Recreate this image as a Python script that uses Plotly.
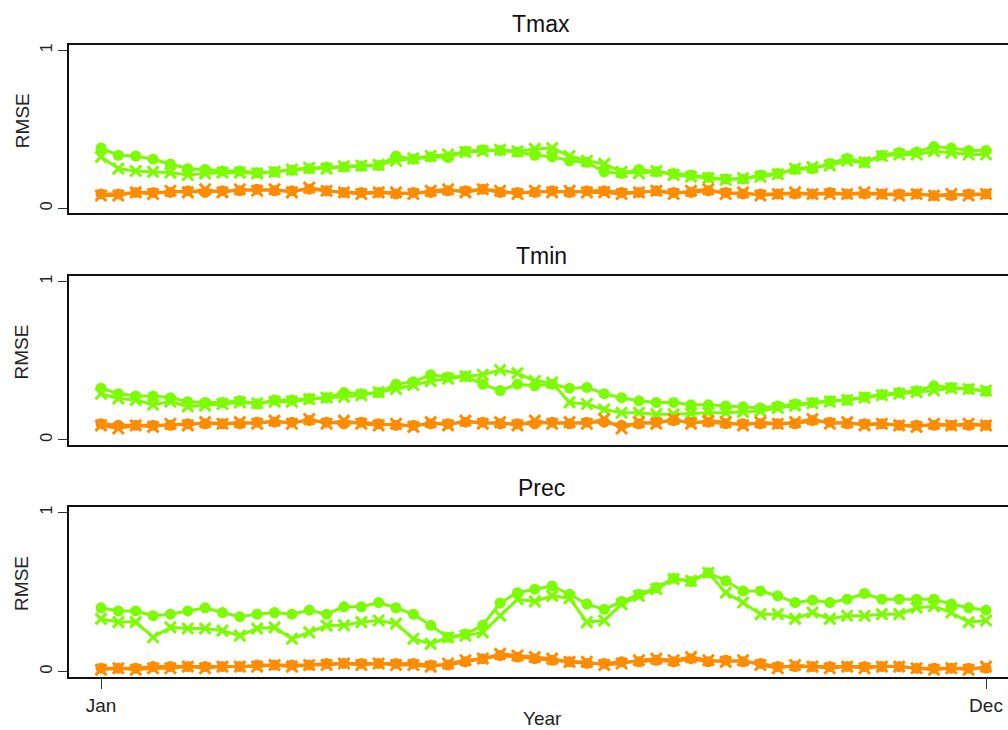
import plotly.graph_objects as go

# Weekly index across the year (52 weeks)
weeks = list(range(1, 53))
tick_vals = [1, 52]
tick_text = ["Jan", "Dec"]

panels = ["Tmax", "Tmin", "Prec"]

# Tmax RMSE
tmax_green_dot = [0.38, 0.335, 0.33, 0.31, 0.28, 0.25, 0.245, 0.235, 0.235, 0.225, 0.23, 0.24, 0.25,
                  0.26, 0.26, 0.265, 0.27, 0.33, 0.31, 0.325, 0.32, 0.36, 0.37, 0.365, 0.355, 0.335,
                  0.325, 0.30, 0.29, 0.23, 0.22, 0.245, 0.23, 0.22, 0.21, 0.195, 0.185, 0.185, 0.21,
                  0.22, 0.245, 0.25, 0.283, 0.315, 0.29, 0.335, 0.352, 0.355, 0.39, 0.38, 0.365, 0.365]
tmax_green_x = [0.325, 0.25, 0.235, 0.23, 0.225, 0.21, 0.22, 0.225, 0.225, 0.22, 0.23, 0.245, 0.255,
                0.25, 0.265, 0.27, 0.275, 0.30, 0.315, 0.33, 0.34, 0.355, 0.36, 0.37, 0.36, 0.375,
                0.38, 0.33, 0.30, 0.28, 0.23, 0.22, 0.235, 0.21, 0.20, 0.19, 0.18, 0.19, 0.20,
                0.215, 0.25, 0.26, 0.27, 0.30, 0.29, 0.33, 0.34, 0.34, 0.36, 0.35, 0.34, 0.34]
tmax_orange_dot = [0.09, 0.09, 0.10, 0.10, 0.10, 0.11, 0.10, 0.11, 0.11, 0.12, 0.11, 0.11, 0.12,
                   0.11, 0.10, 0.10, 0.10, 0.09, 0.10, 0.10, 0.11, 0.11, 0.12, 0.10, 0.10, 0.10,
                   0.11, 0.10, 0.11, 0.11, 0.10, 0.10, 0.11, 0.10, 0.10, 0.11, 0.10, 0.09, 0.09,
                   0.09, 0.09, 0.09, 0.10, 0.09, 0.09, 0.09, 0.09, 0.09, 0.08, 0.08, 0.09, 0.09]
tmax_orange_x = [0.08, 0.08, 0.10, 0.09, 0.11, 0.10, 0.12, 0.10, 0.12, 0.11, 0.12, 0.10, 0.13,
                 0.11, 0.10, 0.09, 0.10, 0.10, 0.09, 0.11, 0.12, 0.10, 0.12, 0.11, 0.09, 0.11,
                 0.10, 0.11, 0.10, 0.10, 0.09, 0.10, 0.11, 0.09, 0.11, 0.12, 0.09, 0.10, 0.08,
                 0.09, 0.10, 0.09, 0.09, 0.09, 0.10, 0.09, 0.08, 0.09, 0.08, 0.09, 0.08, 0.09]

# Tmin RMSE
tmin_green_dot = [0.325, 0.29, 0.275, 0.275, 0.265, 0.24, 0.235, 0.235, 0.245, 0.225, 0.25, 0.25, 0.26,
                  0.265, 0.297, 0.29, 0.297, 0.35, 0.365, 0.41, 0.395, 0.40, 0.35, 0.31, 0.35, 0.34,
                  0.35, 0.325, 0.33, 0.29, 0.265, 0.245, 0.235, 0.235, 0.22, 0.22, 0.213, 0.207, 0.20,
                  0.213, 0.225, 0.235, 0.245, 0.25, 0.27, 0.285, 0.297, 0.308, 0.34, 0.33, 0.32, 0.305]
tmin_green_x = [0.29, 0.26, 0.25, 0.22, 0.24, 0.21, 0.215, 0.225, 0.235, 0.23, 0.24, 0.24, 0.255,
                0.265, 0.27, 0.28, 0.30, 0.32, 0.345, 0.37, 0.385, 0.40, 0.41, 0.44, 0.42, 0.37,
                0.36, 0.235, 0.225, 0.19, 0.17, 0.17, 0.16, 0.16, 0.165, 0.17, 0.17, 0.175, 0.18,
                0.20, 0.215, 0.23, 0.24, 0.25, 0.265, 0.28, 0.29, 0.30, 0.31, 0.325, 0.32, 0.31]
tmin_orange_dot = [0.10, 0.09, 0.09, 0.09, 0.09, 0.10, 0.10, 0.10, 0.10, 0.11, 0.11, 0.11, 0.12,
                   0.11, 0.10, 0.11, 0.10, 0.09, 0.09, 0.10, 0.10, 0.11, 0.11, 0.10, 0.10, 0.10,
                   0.11, 0.10, 0.11, 0.11, 0.09, 0.10, 0.11, 0.12, 0.11, 0.11, 0.10, 0.10, 0.10,
                   0.10, 0.10, 0.12, 0.11, 0.10, 0.10, 0.10, 0.09, 0.09, 0.09, 0.09, 0.09, 0.09]
tmin_orange_x = [0.09, 0.07, 0.09, 0.08, 0.10, 0.09, 0.11, 0.10, 0.11, 0.10, 0.12, 0.10, 0.13,
                 0.10, 0.12, 0.10, 0.09, 0.10, 0.08, 0.11, 0.09, 0.12, 0.10, 0.11, 0.09, 0.12,
                 0.10, 0.11, 0.10, 0.13, 0.07, 0.11, 0.10, 0.13, 0.10, 0.12, 0.11, 0.09, 0.11,
                 0.10, 0.11, 0.13, 0.10, 0.11, 0.09, 0.10, 0.09, 0.08, 0.10, 0.09, 0.10, 0.09]

# Precipitation RMSE
prec_green_dot = [0.40, 0.38, 0.38, 0.35, 0.36, 0.38, 0.40, 0.37, 0.344, 0.36, 0.37, 0.36, 0.385,
                  0.36, 0.406, 0.406, 0.433, 0.40, 0.36, 0.29, 0.214, 0.235, 0.29, 0.43, 0.495, 0.517,
                  0.537, 0.485, 0.423, 0.39, 0.44, 0.485, 0.527, 0.585, 0.565, 0.62, 0.57, 0.506, 0.506,
                  0.475, 0.433, 0.448, 0.433, 0.454, 0.49, 0.454, 0.454, 0.454, 0.454, 0.423, 0.40, 0.385]
prec_green_x = [0.33, 0.31, 0.31, 0.215, 0.277, 0.27, 0.27, 0.256, 0.225, 0.27, 0.277, 0.205, 0.245,
                0.288, 0.29, 0.31, 0.32, 0.30, 0.205, 0.173, 0.214, 0.225, 0.245, 0.35, 0.454, 0.44,
                0.475, 0.46, 0.31, 0.32, 0.423, 0.475, 0.517, 0.58, 0.57, 0.62, 0.495, 0.433, 0.36,
                0.36, 0.33, 0.37, 0.33, 0.35, 0.35, 0.36, 0.36, 0.40, 0.41, 0.37, 0.31, 0.32]
prec_orange_dot = [0.02, 0.02, 0.02, 0.03, 0.03, 0.03, 0.03, 0.03, 0.03, 0.04, 0.04, 0.04, 0.04,
                   0.05, 0.05, 0.05, 0.05, 0.05, 0.05, 0.04, 0.04, 0.06, 0.08, 0.10, 0.09, 0.08,
                   0.07, 0.06, 0.05, 0.05, 0.06, 0.06, 0.07, 0.06, 0.08, 0.06, 0.07, 0.06, 0.05,
                   0.03, 0.03, 0.03, 0.03, 0.03, 0.03, 0.03, 0.03, 0.02, 0.02, 0.02, 0.02, 0.02]
prec_orange_x = [0.01, 0.02, 0.01, 0.02, 0.02, 0.03, 0.02, 0.03, 0.03, 0.03, 0.04, 0.03, 0.04,
                 0.04, 0.05, 0.04, 0.05, 0.04, 0.04, 0.03, 0.05, 0.07, 0.08, 0.11, 0.10, 0.09,
                 0.08, 0.06, 0.06, 0.04, 0.05, 0.07, 0.08, 0.07, 0.09, 0.07, 0.06, 0.07, 0.04,
                 0.02, 0.04, 0.03, 0.02, 0.03, 0.02, 0.03, 0.03, 0.02, 0.01, 0.02, 0.01, 0.03]

series = [
    (tmax_green_dot, tmax_green_x, tmax_orange_dot, tmax_orange_x),
    (tmin_green_dot, tmin_green_x, tmin_orange_dot, tmin_orange_x),
    (prec_green_dot, prec_green_x, prec_orange_dot, prec_orange_x),
]

GREEN = "#7CFC00"
ORANGE = "#FF8C00"
FONT = "Liberation Sans, Arial, sans-serif"

W, H = 1008, 730
# panel boxes in pixels (top, bottom)
boxes = [(43, 212), (275, 444), (506.5, 676.5)]
left_px = 69

fig = go.Figure()

for k, (g_dot, g_x, o_dot, o_x) in enumerate(series):
    ax = "" if k == 0 else str(k + 1)
    xa, ya = "x" + ax, "y" + ax
    for vals, col, sym in [(g_dot, GREEN, "circle"), (g_x, GREEN, "x-thin"),
                           (o_dot, ORANGE, "circle"), (o_x, ORANGE, "x-thin")]:
        if sym == "circle":
            marker = dict(symbol="circle", size=11, color=col)
        else:
            marker = dict(symbol="x-thin", size=11, color=col,
                          line=dict(color=col, width=3))
        fig.add_trace(go.Scatter(x=weeks, y=vals, mode="lines+markers",
                                 line=dict(color=col, width=3), marker=marker,
                                 xaxis=xa, yaxis=ya, showlegend=False,
                                 hoverinfo="skip"))

x_range = [-0.844, 53.268]
layout = dict(width=W, height=H, margin=dict(l=0, r=0, t=0, b=0),
              paper_bgcolor="white", plot_bgcolor="white",
              font=dict(family=FONT, color="#222222"))

for k, (top, bot) in enumerate(boxes):
    ax = "" if k == 0 else str(k + 1)
    dom_y = [1 - bot / H, 1 - top / H]
    last = k == len(boxes) - 1
    layout["xaxis" + ax] = dict(
        domain=[left_px / W, 1.0], range=x_range, anchor="y" + ax,
        showline=True, linecolor="#111111", linewidth=1.5, mirror=True,
        showgrid=False, zeroline=False,
        tickmode="array", tickvals=tick_vals if last else [],
        ticktext=tick_text if last else [],
        ticks="outside" if last else "", ticklen=11, tickwidth=1.2, tickcolor="#333333",
        showticklabels=last, tickfont=dict(size=19, family=FONT, color="#222222"),
    )
    layout["yaxis" + ax] = dict(
        domain=dom_y, range=[-0.033, 1.033], anchor="x" + ax,
        showline=True, linecolor="#111111", linewidth=1.5,
        showgrid=False, zeroline=False,
        tickmode="array", tickvals=[0, 1], ticktext=["0", "1"],
        ticks="outside", ticklen=9, tickwidth=1.2, tickcolor="#333333",
        tickangle=-90, tickfont=dict(size=16, family=FONT, color="#222222"),
    )

fig.update_layout(**layout)

annotations = []
title_y = [22, 255, 487]
for k, name in enumerate(panels):
    top, bot = boxes[k]
    annotations.append(dict(text=name, x=541 / W, y=1 - title_y[k] / H, xref="paper", yref="paper",
                            xanchor="center", yanchor="middle", showarrow=False,
                            font=dict(size=23, family=FONT, color="#111111")))
    annotations.append(dict(text="RMSE", x=22 / W, y=1 - ((top + bot) / 2 - 8) / H,
                            xref="paper", yref="paper", textangle=-90,
                            xanchor="center", yanchor="middle", showarrow=False,
                            font=dict(size=19, family=FONT, color="#222222")))
annotations.append(dict(text="Year", x=542 / W, y=1 - 718 / H, xref="paper", yref="paper",
                        xanchor="center", yanchor="middle", showarrow=False,
                        font=dict(size=19, family=FONT, color="#222222")))
fig.update_layout(annotations=annotations)

fig.write_html("out.html")
